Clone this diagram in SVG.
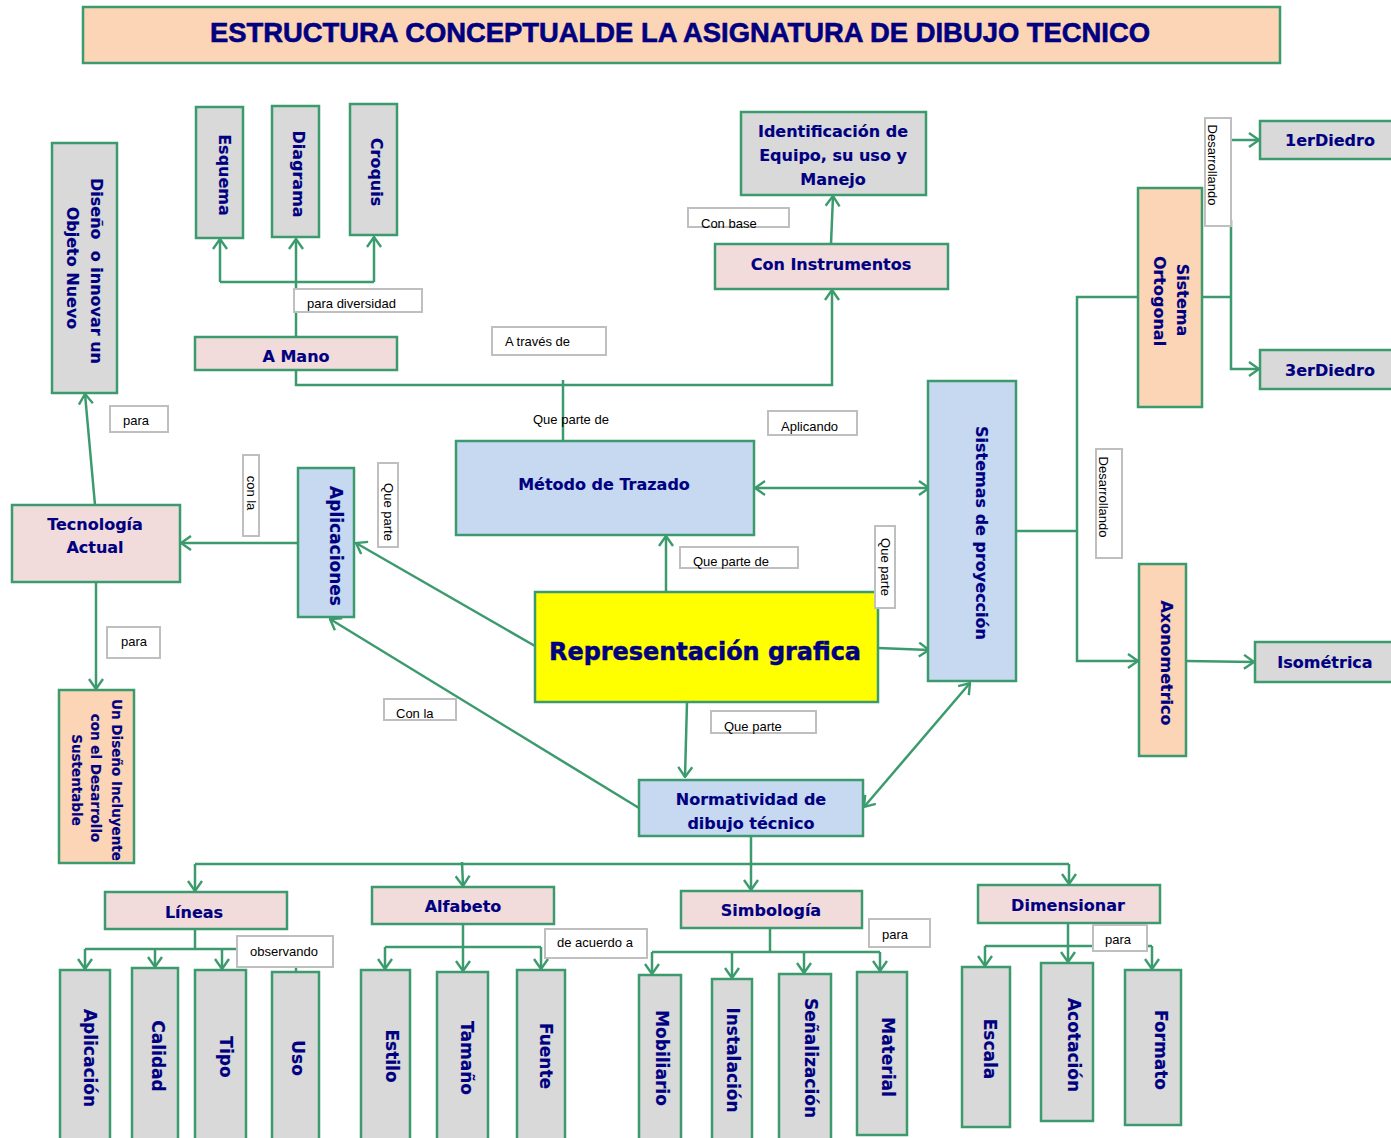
<svg xmlns="http://www.w3.org/2000/svg" width="1391" height="1138" viewBox="0 0 1391 1138">
  <style>
    .n { stroke: #3c9b6e; stroke-width: 2.5; }
    .gray { fill: #d9d9d9; }
    .pink { fill: #f2dcdb; }
    .peach { fill: #fbd5b5; }
    .blue { fill: #c6d9f0; }
    .yellow { fill: #ffff00; }
    .t { font-family: "DejaVu Sans", "Liberation Sans", sans-serif; font-weight: bold; font-size: 16px; fill: #000080; stroke: #000080; stroke-width: 0.15; text-anchor: middle; }
    .t17 { font-size: 17px; }
    .t14 { font-size: 13.5px; }
    .big { font-size: 24px; stroke-width: 0.5; }
    .c { fill: none; stroke: #3c9b6e; stroke-width: 2.5; }
    .a { marker-end: url(#ah); }
    .aa { marker-start: url(#ah); marker-end: url(#ah); }
    .lb { fill: #ffffff; stroke: #bfbfbf; stroke-width: 2; }
    .lt { font-family: "Liberation Sans", Arial, sans-serif; font-size: 13px; fill: #000000; }
  </style>
  <defs>
    <marker id="ah" viewBox="0 0 12 16" refX="11" refY="8" markerWidth="12" markerHeight="16" markerUnits="userSpaceOnUse" orient="auto-start-reverse">
      <path d="M1,1 L11,8 L1,15" fill="none" stroke="#3c9b6e" stroke-width="2.4"/>
    </marker>
  </defs>

  <!-- title banner -->
  <g id="title">
    <rect x="83" y="7" width="1197" height="56" class="n peach"/>
    <text x="680" y="42" font-family="Liberation Sans, Arial, sans-serif" font-weight="bold" font-size="27" fill="#000080" stroke="#000080" stroke-width="0.6" text-anchor="middle" textLength="940" lengthAdjust="spacingAndGlyphs">ESTRUCTURA CONCEPTUALDE LA ASIGNATURA DE DIBUJO TECNICO</text>
  </g>

  <!-- connectors -->
  <g id="connectors">
    <path class="c a" d="M296,337 V239"/>
    <path class="c" d="M220,282 H374"/>
    <path class="c a" d="M220,282 V239"/>
    <path class="c a" d="M374,282 V237"/>
    <path class="c a" d="M296,370 V385 H832 V290"/>
    <path class="c" d="M563,380 V441"/>
    <path class="c a" d="M831,244 L833,196"/>
    <path class="c aa" d="M755,488 H929"/>
    <path class="c a" d="M666,592 V536"/>
    <path class="c a" d="M878,648 L929,650"/>
    <path class="c a" d="M687,702 L685,777"/>
    <path class="c aa" d="M864,807 L970,683"/>
    <path class="c a" d="M535,646 L356,543"/>
    <path class="c a" d="M639,808 L330,619"/>
    <path class="c a" d="M298,543 H181"/>
    <path class="c a" d="M95,505 L85,394"/>
    <path class="c a" d="M96,582 V689"/>
    <path class="c" d="M1016,531 H1077"/>
    <path class="c a" d="M1137,297 H1077 V661 H1138"/>
    <path class="c" d="M1202,297 H1231"/>
    <path class="c a" d="M1231,140 H1259"/>
    <path class="c a" d="M1231,220 V369 H1259"/>
    <path class="c a" d="M1186,661 L1254,662"/>
    <path class="c" d="M751,836 V864"/>
    <path class="c" d="M195,864 H1069"/>
    <path class="c a" d="M195,864 V891"/>
    <path class="c a" d="M462,862 L463,886"/>
    <path class="c a" d="M751,864 V890"/>
    <path class="c a" d="M1069,864 V884"/>
    <path class="c" d="M195,929 V949"/>
    <path class="c" d="M85,949 H237"/>
    <path class="c a" d="M85,949 V969"/>
    <path class="c a" d="M155,949 V967"/>
    <path class="c a" d="M222,949 V969"/>
    <path class="c" d="M296,966 V972"/>
    <path class="c a" d="M463,924 V971"/>
    <path class="c" d="M385,947 H541"/>
    <path class="c a" d="M385,947 V969"/>
    <path class="c a" d="M541,947 V969"/>
    <path class="c" d="M770,928 V951"/>
    <path class="c" d="M652,952 H880"/>
    <path class="c a" d="M652,952 V974"/>
    <path class="c a" d="M732,952 V978"/>
    <path class="c a" d="M804,952 V973"/>
    <path class="c a" d="M880,952 V971"/>
    <path class="c a" d="M1068,923 V962"/>
    <path class="c" d="M985,946 H1152"/>
    <path class="c a" d="M985,946 V966"/>
    <path class="c a" d="M1152,946 V969"/>
  </g>

  <!-- nodes -->
  <g id="diseno-objeto">
    <rect x="52" y="143" width="65" height="250" class="n gray"/>
    <text class="t" transform="translate(97,271) rotate(90)" y="6" xml:space="preserve">Diseño  o innovar un</text>
    <text class="t" transform="translate(73,268) rotate(90)" y="6">Objeto Nuevo</text>
  </g>
  <g id="esquema">
    <rect x="196" y="107" width="47" height="131" class="n gray"/>
    <text class="t" transform="translate(225,175) rotate(90)" y="6">Esquema</text>
  </g>
  <g id="diagrama">
    <rect x="272" y="106" width="47" height="131" class="n gray"/>
    <text class="t" transform="translate(299,174) rotate(90)" y="6">Diagrama</text>
  </g>
  <g id="croquis">
    <rect x="350" y="104" width="47" height="131" class="n gray"/>
    <text class="t" transform="translate(377,172) rotate(90)" y="6">Croquis</text>
  </g>
  <g id="a-mano">
    <rect x="195" y="337" width="202" height="33" class="n pink"/>
    <text class="t" x="296" y="362">A Mano</text>
  </g>
  <g id="identificacion">
    <rect x="741" y="112" width="185" height="83" class="n gray"/>
    <text class="t" x="833" y="137">Identificación de</text>
    <text class="t" x="833" y="161">Equipo, su uso y</text>
    <text class="t" x="833" y="185">Manejo</text>
  </g>
  <g id="con-instrumentos">
    <rect x="715" y="244" width="233" height="45" class="n pink"/>
    <text class="t" x="831" y="270">Con Instrumentos</text>
  </g>
  <g id="metodo-trazado">
    <rect x="456" y="441" width="298" height="94" class="n blue"/>
    <text class="t" x="604" y="490">Método de Trazado</text>
  </g>
  <g id="sistemas-proyeccion">
    <rect x="928" y="381" width="88" height="300" class="n blue"/>
    <text class="t" transform="translate(982,533) rotate(90)" y="6">Sistemas de proyección</text>
  </g>
  <g id="representacion">
    <rect x="535" y="592" width="343" height="110" class="n yellow"/>
    <text class="t big" x="705" y="660" textLength="312" lengthAdjust="spacingAndGlyphs">Representación grafica</text>
  </g>
  <g id="normatividad">
    <rect x="639" y="780" width="224" height="56" class="n blue"/>
    <text class="t" x="751" y="805">Normatividad de</text>
    <text class="t" x="751" y="829">dibujo técnico</text>
  </g>
  <g id="aplicaciones">
    <rect x="298" y="468" width="56" height="149" class="n blue"/>
    <text class="t t17" transform="translate(336,546) rotate(90)" y="6">Aplicaciones</text>
  </g>
  <g id="tecnologia">
    <rect x="12" y="505" width="168" height="77" class="n pink"/>
    <text class="t" x="95" y="530">Tecnología</text>
    <text class="t" x="95" y="553">Actual</text>
  </g>
  <g id="diseno-incluyente">
    <rect x="59" y="690" width="75" height="173" class="n peach"/>
    <text class="t t14" transform="translate(117,780) rotate(90)" y="5">Un Diseño Incluyente</text>
    <text class="t t14" transform="translate(96,778) rotate(90)" y="5">con el Desarrollo</text>
    <text class="t t14" transform="translate(77,780) rotate(90)" y="5">Sustentable</text>
  </g>
  <g id="sistema-ortogonal">
    <rect x="1138" y="188" width="64" height="219" class="n peach"/>
    <text class="t" transform="translate(1183,300) rotate(90)" y="6">Sistema</text>
    <text class="t" transform="translate(1160,301) rotate(90)" y="6">Ortogonal</text>
  </g>
  <g id="axonometrico">
    <rect x="1139" y="564" width="47" height="192" class="n peach"/>
    <text class="t" transform="translate(1167,663) rotate(90)" y="6">Axonometrico</text>
  </g>
  <g id="primer-diedro">
    <rect x="1260" y="121" width="135" height="38" class="n gray"/>
    <text class="t" x="1330" y="146">1erDiedro</text>
  </g>
  <g id="tercer-diedro">
    <rect x="1260" y="350" width="135" height="39" class="n gray"/>
    <text class="t" x="1330" y="376">3erDiedro</text>
  </g>
  <g id="isometrica">
    <rect x="1255" y="642" width="140" height="40" class="n gray"/>
    <text class="t" x="1325" y="668">Isométrica</text>
  </g>

  <g id="lineas">
    <rect x="105" y="892" width="182" height="37" class="n pink"/>
    <text class="t" x="194" y="918">Líneas</text>
  </g>
  <g id="alfabeto">
    <rect x="372" y="887" width="182" height="37" class="n pink"/>
    <text class="t" x="463" y="912">Alfabeto</text>
  </g>
  <g id="simbologia">
    <rect x="681" y="891" width="181" height="37" class="n pink"/>
    <text class="t" x="771" y="916">Simbología</text>
  </g>
  <g id="dimensionar">
    <rect x="978" y="885" width="182" height="38" class="n pink"/>
    <text class="t" x="1068" y="911">Dimensionar</text>
  </g>

  <g id="aplicacion">
    <rect x="60" y="970" width="50" height="172" class="n gray"/>
    <text class="t t17" transform="translate(90,1058) rotate(90)" y="6">Aplicación</text>
  </g>
  <g id="calidad">
    <rect x="132" y="968" width="46" height="174" class="n gray"/>
    <text class="t t17" transform="translate(158,1056) rotate(90)" y="6">Calidad</text>
  </g>
  <g id="tipo">
    <rect x="195" y="970" width="51" height="172" class="n gray"/>
    <text class="t t17" transform="translate(226,1057) rotate(90)" y="6">Tipo</text>
  </g>
  <g id="uso">
    <rect x="272" y="972" width="47" height="170" class="n gray"/>
    <text class="t t17" transform="translate(298,1058) rotate(90)" y="6">Uso</text>
  </g>
  <g id="estilo">
    <rect x="361" y="970" width="49" height="172" class="n gray"/>
    <text class="t t17" transform="translate(392,1056) rotate(90)" y="6">Estilo</text>
  </g>
  <g id="tamano">
    <rect x="437" y="972" width="51" height="170" class="n gray"/>
    <text class="t t17" transform="translate(467,1058) rotate(90)" y="6">Tamaño</text>
  </g>
  <g id="fuente">
    <rect x="517" y="970" width="48" height="172" class="n gray"/>
    <text class="t t17" transform="translate(546,1056) rotate(90)" y="6">Fuente</text>
  </g>
  <g id="mobiliario">
    <rect x="639" y="975" width="42" height="167" class="n gray"/>
    <text class="t t17" transform="translate(662,1058) rotate(90)" y="6">Mobiliario</text>
  </g>
  <g id="instalacion">
    <rect x="712" y="979" width="40" height="163" class="n gray"/>
    <text class="t t17" transform="translate(733,1060) rotate(90)" y="6">Instalación</text>
  </g>
  <g id="senalizacion">
    <rect x="779" y="974" width="52" height="168" class="n gray"/>
    <text class="t t17" transform="translate(811,1058) rotate(90)" y="6">Señalización</text>
  </g>
  <g id="material">
    <rect x="857" y="972" width="50" height="163" class="n gray"/>
    <text class="t t17" transform="translate(888,1057) rotate(90)" y="6">Material</text>
  </g>
  <g id="escala">
    <rect x="962" y="967" width="48" height="160" class="n gray"/>
    <text class="t t17" transform="translate(990,1049) rotate(90)" y="6">Escala</text>
  </g>
  <g id="acotacion">
    <rect x="1041" y="963" width="52" height="158" class="n gray"/>
    <text class="t t17" transform="translate(1074,1045) rotate(90)" y="6">Acotación</text>
  </g>
  <g id="formato">
    <rect x="1125" y="970" width="56" height="155" class="n gray"/>
    <text class="t t17" transform="translate(1161,1050) rotate(90)" y="6">Formato</text>
  </g>

  <!-- connector labels -->
  <g id="labels">
    <rect x="294" y="289" width="128" height="23" class="lb"/>
    <text class="lt" x="307" y="308">para diversidad</text>
    <rect x="492" y="327" width="114" height="28" class="lb"/>
    <text class="lt" x="505" y="346">A través de</text>
    <rect x="688" y="208" width="101" height="19" class="lb"/>
    <text class="lt" x="701" y="228">Con base</text>
    <text class="lt" x="533" y="424">Que parte de</text>
    <rect x="768" y="411" width="89" height="24" class="lb"/>
    <text class="lt" x="781" y="431">Aplicando</text>
    <rect x="680" y="547" width="118" height="21" class="lb"/>
    <text class="lt" x="693" y="566">Que parte de</text>
    <rect x="875" y="526" width="20" height="82" class="lb"/>
    <text class="lt" transform="translate(885,567) rotate(90)" y="4" text-anchor="middle">Que parte</text>
    <rect x="711" y="711" width="105" height="22" class="lb"/>
    <text class="lt" x="724" y="731">Que parte</text>
    <rect x="384" y="699" width="72" height="21" class="lb"/>
    <text class="lt" x="396" y="718">Con la</text>
    <rect x="378" y="463" width="20" height="84" class="lb"/>
    <text class="lt" transform="translate(388,512) rotate(90)" y="4" text-anchor="middle">Que parte</text>
    <rect x="243" y="455" width="16" height="81" class="lb"/>
    <text class="lt" transform="translate(251,493) rotate(90)" y="4" text-anchor="middle">con la</text>
    <rect x="110" y="406" width="58" height="26" class="lb"/>
    <text class="lt" x="123" y="425">para</text>
    <rect x="107" y="627" width="53" height="31" class="lb"/>
    <text class="lt" x="121" y="646">para</text>
    <rect x="1096" y="449" width="26" height="109" class="lb"/>
    <text class="lt" transform="translate(1103,497) rotate(90)" y="4" text-anchor="middle">Desarrollando</text>
    <rect x="1205" y="118" width="26" height="108" class="lb"/>
    <text class="lt" transform="translate(1212,165) rotate(90)" y="4" text-anchor="middle">Desarrollando</text>
    <rect x="237" y="936" width="96" height="31" class="lb"/>
    <text class="lt" x="250" y="956">observando</text>
    <rect x="545" y="929" width="102" height="29" class="lb"/>
    <text class="lt" x="557" y="947">de acuerdo a</text>
    <rect x="869" y="919" width="61" height="28" class="lb"/>
    <text class="lt" x="882" y="939">para</text>
    <rect x="1093" y="925" width="54" height="26" class="lb"/>
    <text class="lt" x="1105" y="944">para</text>
  </g>
</svg>
